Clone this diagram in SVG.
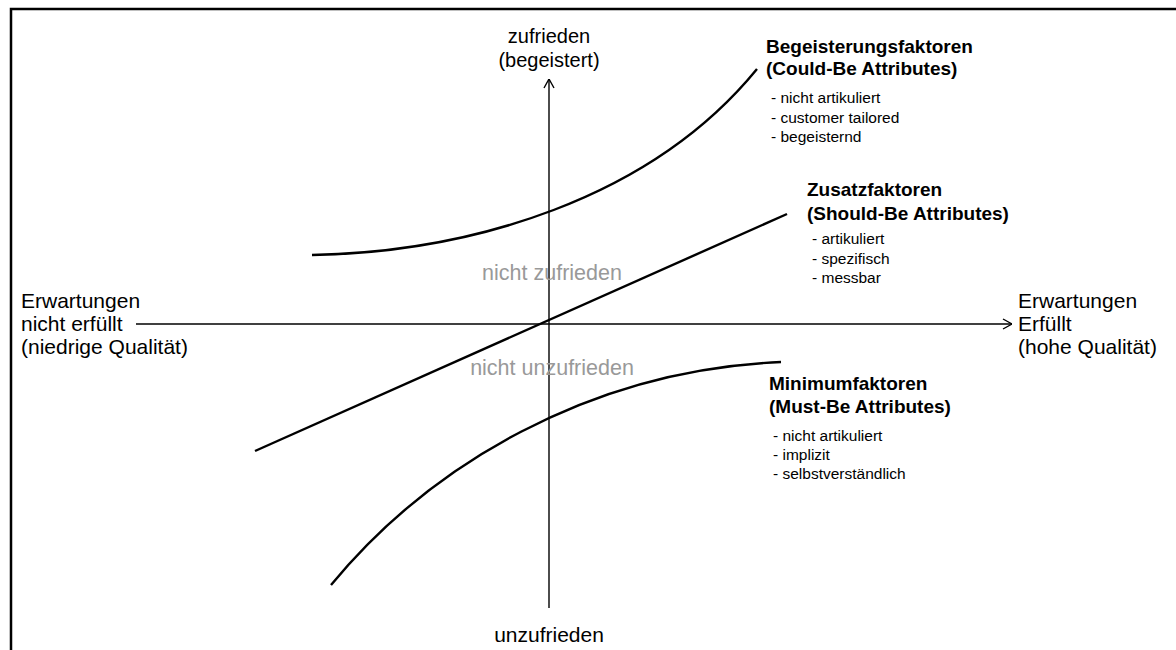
<svg xmlns="http://www.w3.org/2000/svg" width="1176" height="650" viewBox="0 0 1176 650">
<style>
text{font-family:"Liberation Sans",Arial,sans-serif;fill:#000}
.big{font-size:21px}
.top{font-size:20px}
.gray{font-size:21.5px;fill:#999}
.head{font-size:19px;font-weight:bold}
.item{font-size:15.5px}
.axis{stroke:#000;stroke-width:1.4;fill:none}
.curve{stroke:#000;stroke-width:2.4;fill:none}
</style>
<defs>
<marker id="arr" viewBox="0 0 10 12" refX="10" refY="6" markerWidth="10" markerHeight="12" markerUnits="userSpaceOnUse" orient="auto">
<path d="M1,1 L10,6 L1,11" fill="none" stroke="#000" stroke-width="1.4"/>
</marker>
</defs>
<rect x="11" y="9" width="1200" height="700" fill="#fff" stroke="#000" stroke-width="2.5"/>
<g id="connectors">
<line class="axis" x1="549" y1="608" x2="549" y2="79" marker-end="url(#arr)"/>
<line class="axis" x1="136" y1="324" x2="1012" y2="324" marker-end="url(#arr)"/>
<path class="curve" d="M312,255 C470,252 650,200 757,69"/>
<line class="curve" x1="255" y1="451" x2="787" y2="214"/>
<path class="curve" d="M331,585 C430,465 590,370 781,362"/>
</g>
<g id="axis-top"><text class="top" x="549" y="43" text-anchor="middle">zufrieden</text><text class="top" x="549" y="67" text-anchor="middle">(begeistert)</text></g>
<g id="axis-bottom"><text class="big" x="549" y="642" text-anchor="middle">unzufrieden</text></g>
<g id="axis-left"><text class="big" x="21" y="308">Erwartungen</text><text class="big" x="21" y="331">nicht erfüllt</text><text class="big" x="21" y="354">(niedrige Qualität)</text></g>
<g id="axis-right"><text class="big" x="1018" y="308">Erwartungen</text><text class="big" x="1018" y="331">Erfüllt</text><text class="big" x="1018" y="354">(hohe Qualität)</text></g>
<g id="zone-upper"><text class="gray" x="552" y="280" text-anchor="middle">nicht zufrieden</text></g>
<g id="zone-lower"><text class="gray" x="552" y="375" text-anchor="middle">nicht unzufrieden</text></g>
<g id="begeisterung"><text class="head" x="766" y="53">Begeisterungsfaktoren</text><text class="head" x="766" y="75">(Could-Be Attributes)</text><text class="item" x="771" y="103">- nicht artikuliert</text><text class="item" x="771" y="123">- customer tailored</text><text class="item" x="771" y="142">- begeisternd</text></g>
<g id="zusatz"><text class="head" x="807" y="196">Zusatzfaktoren</text><text class="head" x="807" y="220">(Should-Be Attributes)</text><text class="item" x="812" y="244">- artikuliert</text><text class="item" x="812" y="264">- spezifisch</text><text class="item" x="812" y="283">- messbar</text></g>
<g id="minimum"><text class="head" x="769" y="390">Minimumfaktoren</text><text class="head" x="769" y="413">(Must-Be Attributes)</text><text class="item" x="773" y="441">- nicht artikuliert</text><text class="item" x="773" y="460">- implizit</text><text class="item" x="773" y="479">- selbstverständlich</text></g>
</svg>
